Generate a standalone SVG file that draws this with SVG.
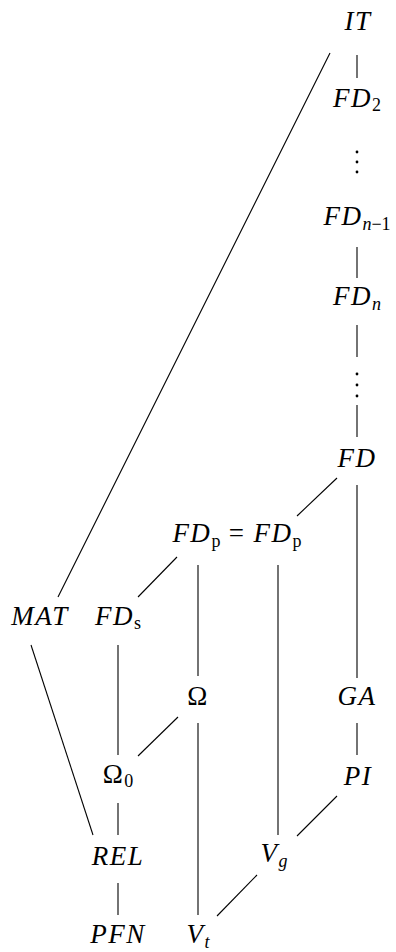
<svg xmlns="http://www.w3.org/2000/svg" width="396" height="952" viewBox="0 0 396 952">
<style>
text{font-family:"Liberation Serif","DejaVu Serif",serif;font-size:27px;font-style:italic;text-anchor:middle;fill:#000;letter-spacing:1.5px}
.r{font-style:normal}
.s{font-size:18px;letter-spacing:0}
line{stroke:#000;stroke-width:1.1}
circle{fill:#000}
</style>
<rect width="396" height="952" fill="#fff"/>
<g id="connectors">
<line x1="357" y1="55" x2="357" y2="78"/>
<line x1="330" y1="53" x2="58" y2="597"/>
<line x1="357" y1="247" x2="357" y2="278"/>
<line x1="357" y1="325" x2="357" y2="357"/>
<line x1="357" y1="405" x2="357" y2="437"/>
<line x1="337" y1="478" x2="297" y2="516"/>
<line x1="357" y1="485" x2="357" y2="678"/>
<line x1="177" y1="557" x2="138" y2="597"/>
<line x1="198" y1="565" x2="198" y2="676"/>
<line x1="278" y1="565" x2="278" y2="835"/>
<line x1="31" y1="645" x2="93" y2="835"/>
<line x1="118" y1="645" x2="118" y2="755"/>
<line x1="178" y1="717" x2="138" y2="756"/>
<line x1="198" y1="723" x2="198" y2="915"/>
<line x1="357" y1="723" x2="357" y2="755"/>
<line x1="337" y1="796" x2="297" y2="836"/>
<line x1="118" y1="803" x2="118" y2="835"/>
<line x1="118" y1="883" x2="118" y2="915"/>
<line x1="257" y1="875" x2="217" y2="916"/>
</g>
<g id="IT"><text x="358" y="30">IT</text></g>
<g id="FD2"><text x="357" y="107">FD<tspan class="r s" dy="4">2</tspan></text></g>
<g id="vdots1"><circle cx="357" cy="152" r="1.4"/><circle cx="357" cy="162" r="1.4"/><circle cx="357" cy="172" r="1.4"/></g>
<g id="FDn1"><text x="357" y="225">FD<tspan class="s" dy="5">n</tspan><tspan class="r s">−1</tspan></text></g>
<g id="FDn"><text x="357" y="305">FD<tspan class="s" dy="5">n</tspan></text></g>
<g id="vdots2"><circle cx="357" cy="374" r="1.4"/><circle cx="357" cy="385" r="1.4"/><circle cx="357" cy="396" r="1.4"/></g>
<g id="FD"><text x="357" y="467">FD</text></g>
<g id="FDp"><text x="237" y="542">FD<tspan class="r s" dy="5">p</tspan><tspan class="r" dy="-5"> = </tspan>FD<tspan class="r s" dy="5">p</tspan></text></g>
<g id="MAT"><text x="40" y="625">MAT</text></g>
<g id="FDs"><text x="118" y="625">FD<tspan class="r s" dy="4">s</tspan></text></g>
<g id="Omega"><text x="198" y="705" class="r">Ω</text></g>
<g id="GA"><text x="357" y="705">GA</text></g>
<g id="Omega0"><text x="118" y="783" class="r">Ω<tspan class="s" dy="4">0</tspan></text></g>
<g id="PI"><text x="358" y="785">PI</text></g>
<g id="REL"><text x="118" y="865">REL</text></g>
<g id="Vg"><text x="274" y="862">V<tspan class="s" dy="5">g</tspan></text></g>
<g id="PFN"><text x="118" y="943">PFN</text></g>
<g id="Vt"><text x="198" y="943">V<tspan class="s" dy="5">t</tspan></text></g>
</svg>
